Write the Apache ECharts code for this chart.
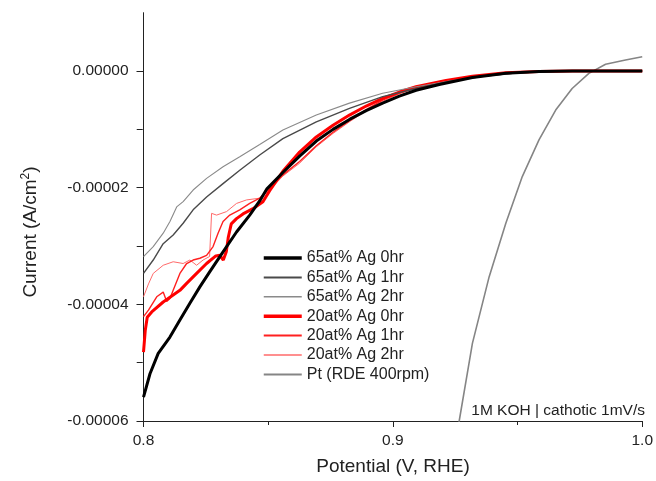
<!DOCTYPE html>
<html><head><meta charset="utf-8">
<script src="https://cdn.jsdelivr.net/npm/echarts@6/dist/echarts.min.js"></script>
<style>html,body{margin:0;padding:0;background:#fff}#c{width:656px;height:481px}</style>
</head><body><div id="c"></div>
<script>
// values in units of 1e-5 A/cm^2, potential in V vs RHE
const ag65_0hr = [[0.8000,-5.59],[0.8026,-5.19],[0.8059,-4.84],[0.8106,-4.56],[0.8146,-4.27],[0.8186,-3.98],[0.8226,-3.70],[0.8266,-3.44],[0.8319,-3.10],[0.8373,-2.76],[0.8426,-2.47],[0.8470,-2.20],[0.8495,-2.02],[0.8559,-1.74],[0.8626,-1.46],[0.8693,-1.20],[0.8760,-1.00],[0.8826,-0.83],[0.8893,-0.68],[0.8959,-0.55],[0.9026,-0.43],[0.9093,-0.33],[0.9186,-0.23],[0.9319,-0.11],[0.9453,-0.04],[0.9586,-0.01],[0.9720,0],[1.0,0]];
const ag65_1hr = [[0.8,-3.47],[0.8039,-3.24],[0.8079,-2.96],[0.8119,-2.81],[0.8159,-2.61],[0.8199,-2.38],[0.8253,-2.16],[0.8319,-1.93],[0.8386,-1.70],[0.8466,-1.44],[0.8559,-1.16],[0.8693,-0.87],[0.8826,-0.64],[0.8959,-0.44],[0.9093,-0.30],[0.9226,-0.18],[0.9360,-0.09],[0.9500,-0.03],[0.9650,-0.005],[0.98,0],[1.0,0]];
const ag65_2hr = [[0.8,-3.18],[0.8039,-3.01],[0.8079,-2.78],[0.8106,-2.58],[0.8133,-2.33],[0.8159,-2.24],[0.8199,-2.04],[0.8253,-1.84],[0.8319,-1.64],[0.8386,-1.47],[0.8466,-1.26],[0.8559,-1.01],[0.8693,-0.755],[0.8826,-0.55],[0.8959,-0.38],[0.9093,-0.27],[0.9226,-0.17],[0.9360,-0.09],[0.9500,-0.035],[0.9650,-0.008],[0.98,0],[1.0,0]];
const ag20_0hr = [[0.8,-4.82],[0.8007,-4.45],[0.8015,-4.22],[0.8033,-4.13],[0.8079,-3.96],[0.8119,-3.84],[0.8146,-3.76],[0.8173,-3.64],[0.8213,-3.47],[0.8253,-3.30],[0.8290,-3.17],[0.8306,-3.16],[0.8320,-3.24],[0.8332,-3.10],[0.8340,-2.85],[0.8352,-2.62],[0.8373,-2.53],[0.8399,-2.45],[0.8439,-2.36],[0.8479,-2.24],[0.8506,-2.05],[0.8559,-1.72],[0.8626,-1.39],[0.8693,-1.13],[0.8760,-0.93],[0.8826,-0.755],[0.8893,-0.60],[0.8959,-0.47],[0.9026,-0.36],[0.9093,-0.27],[0.9213,-0.16],[0.9319,-0.09],[0.9453,-0.03],[0.9586,-0.01],[0.972,0],[1.0,0]];
const ag20_1hr = [[0.8,-4.21],[0.8020,-4.10],[0.8053,-3.87],[0.8079,-3.79],[0.8093,-3.95],[0.8106,-3.90],[0.8119,-3.76],[0.8146,-3.47],[0.8173,-3.30],[0.8199,-3.24],[0.8226,-3.21],[0.8253,-3.16],[0.8279,-3.01],[0.8299,-2.78],[0.8319,-2.58],[0.8346,-2.47],[0.8386,-2.38],[0.8426,-2.27],[0.8466,-2.18],[0.8506,-2.00],[0.8559,-1.78],[0.8626,-1.55],[0.8693,-1.28],[0.8760,-1.05],[0.8826,-0.85],[0.8893,-0.66],[0.8959,-0.50],[0.9026,-0.38],[0.9093,-0.28],[0.9213,-0.17],[0.9319,-0.09],[0.9453,-0.03],[0.9586,-0.01],[0.972,0],[1.0,0]];
const ag20_2hr = [[0.8,-3.87],[0.8020,-3.65],[0.8039,-3.47],[0.8079,-3.33],[0.8119,-3.27],[0.8159,-3.30],[0.8186,-3.24],[0.8213,-3.33],[0.8239,-3.24],[0.8265,-3.18],[0.8273,-2.44],[0.8293,-2.47],[0.8333,-2.41],[0.8373,-2.27],[0.8413,-2.21],[0.8466,-2.18],[0.8506,-2.04],[0.8559,-1.80],[0.8626,-1.58],[0.8693,-1.30],[0.8760,-1.07],[0.8826,-0.87],[0.8893,-0.68],[0.8959,-0.52],[0.9026,-0.39],[0.9093,-0.29],[0.9213,-0.17],[0.9319,-0.09],[0.9453,-0.03],[0.9586,-0.01],[0.972,0],[1.0,0]];
const pt_rde = [[0.9262,-6.1],[0.9266,-6.0],[0.9319,-4.67],[0.9386,-3.53],[0.9453,-2.61],[0.9519,-1.81],[0.9586,-1.18],[0.9653,-0.67],[0.9719,-0.30],[0.9786,-0.04],[0.9853,0.115],[0.9933,0.19],[1.0,0.245]];

const seriesNames = ['65at% Ag 0hr','65at% Ag 1hr','65at% Ag 2hr','20at% Ag 0hr','20at% Ag 1hr','20at% Ag 2hr','Pt (RDE 400rpm)'];
const xTicks = [0.8, 0.9, 1.0];
const xMinorTicks = [0.85, 0.95];
const yTicks = [-6e-5, -4e-5, -2e-5, 0];
const yMinorTicks = [-5e-5, -3e-5, -1e-5];
const noteText = '1M KOH | cathotic 1mV/s';

const scale = d => d.map(p => [p[0], p[1] * 1e-5]);
const dataSets = [ag65_0hr, ag65_1hr, ag65_2hr, ag20_0hr, ag20_1hr, ag20_2hr, pt_rde];
const colors = ['#000000','#4a4a4a','#8a8a8a','#ff0000','#ff2020','#ff6a6a','#858585'];
const widths = [3, 1.4, 1.1, 3, 1.4, 1, 1.6];
const legendWidths = [3.5, 2, 1.6, 3.5, 2, 1.6, 2];
const FONT = 'Liberation Sans, Arial, sans-serif';

const G = {left: 143.5, right: 13, top: 12.7, bottom: 60};
const GW = 656 - G.left - G.right, GH = 481 - G.top - G.bottom;

const chart = echarts.init(document.getElementById('c'), null, {renderer: 'canvas'});
chart.setOption({
  animation: false,
  backgroundColor: '#fff',
  grid: Object.assign({containLabel: false}, G),
  legend: {
    orient: 'vertical', left: 262, top: 250, padding: 0,
    itemWidth: 38, itemHeight: 16, itemGap: 3.4,
    itemStyle: {opacity: 0},
    textStyle: {fontFamily: FONT, fontSize: 16, color: '#222'},
    data: seriesNames.map((n, i) => ({name: n, lineStyle: {width: legendWidths[i]}}))
  },
  xAxis: [{
    type: 'value', min: 0.8, max: 1.0, position: 'bottom',
    axisLine: {show: true, onZero: false, lineStyle: {color: '#222', width: 1}},
    axisTick: {show: true, length: 6, customValues: xTicks, lineStyle: {color: '#222'}},
    axisLabel: {customValues: xTicks, formatter: v => v.toFixed(1), margin: 12, fontFamily: FONT, fontSize: 15.5, color: '#222'},
    splitLine: {show: false}
  }, {
    type: 'value', min: 0.8, max: 1.0, position: 'top', offset: -GH,
    axisLine: {show: false, onZero: false},
    axisTick: {show: true, inside: true, length: 4, customValues: xMinorTicks, lineStyle: {color: '#222'}},
    axisLabel: {show: false}, splitLine: {show: false}
  }],
  yAxis: [{
    type: 'value', min: -6e-5, max: 1e-5, position: 'left',
    axisLine: {show: true, onZero: false, lineStyle: {color: '#222', width: 1}},
    axisTick: {show: true, length: 7, customValues: yTicks, lineStyle: {color: '#222'}},
    axisLabel: {customValues: yTicks, formatter: v => (Math.abs(v) < 1e-12 ? 0 : v).toFixed(5), margin: 15, fontFamily: FONT, fontSize: 15.5, color: '#222'},
    splitLine: {show: false}
  }, {
    type: 'value', min: -6e-5, max: 1e-5, position: 'right', offset: -GW,
    axisLine: {show: false, onZero: false},
    axisTick: {show: true, inside: true, length: 6, customValues: yMinorTicks, lineStyle: {color: '#222'}},
    axisLabel: {show: false}, splitLine: {show: false}
  }],
  series: dataSets.map((d, i) => ({
    name: seriesNames[i], type: 'line', data: scale(d),
    xAxisIndex: 0, yAxisIndex: 0,
    showSymbol: false, symbol: 'none', smooth: false, clip: true,
    z: i === 6 ? 1 : 10 - i,
    lineStyle: {color: colors[i], width: widths[i]},
    itemStyle: {color: colors[i]}
  })),
  graphic: [
    {type: 'text', x: 393, y: 467, style: {text: 'Potential (V, RHE)', font: '19px ' + FONT, fill: '#222', align: 'center', verticalAlign: 'middle'}},
    {type: 'text', x: 31, y: 232, rotation: Math.PI / 2, style: {
      text: '{a|Current (A/cm}{s|2}{a|)}', align: 'center', verticalAlign: 'middle',
      rich: {a: {fontFamily: FONT, fontSize: 19, fill: '#222', lineHeight: 22}, s: {fontFamily: FONT, fontSize: 12, fill: '#222', lineHeight: 12, verticalAlign: 'top'}}
    }},
    {type: 'text', x: 645, y: 411, style: {text: noteText, font: '15.5px ' + FONT, fill: '#222', align: 'right', verticalAlign: 'middle'}}
  ]
});
</script></body></html>
